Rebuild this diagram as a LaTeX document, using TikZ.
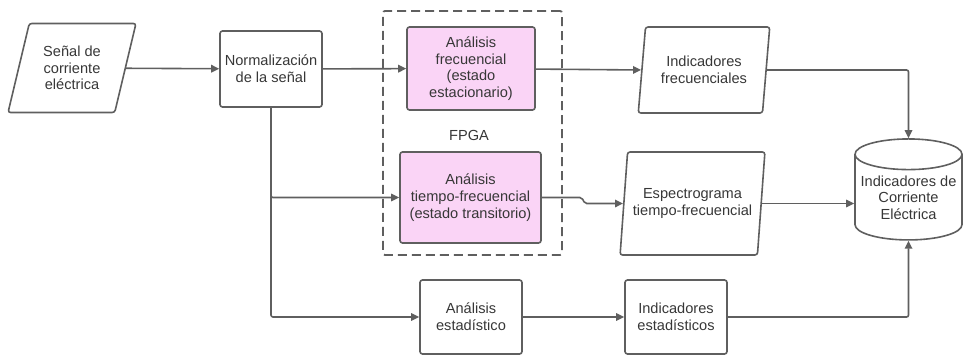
\documentclass[tikz,border=0pt]{standalone}
\usepackage{fontspec}
\setmainfont{Liberation Sans}
\usetikzlibrary{shapes.geometric,arrows.meta}
\definecolor{linegray}{RGB}{95,95,95}
\definecolor{textgray}{RGB}{55,55,55}
\definecolor{fpgapink}{RGB}{250,212,246}
\begin{document}
\begin{tikzpicture}[x=1pt, y=-1pt, font=\fontsize{14.6}{16.7}\selectfont, text=textgray,
	box/.style={draw=linegray, line width=1.6pt, rounded corners=2.5pt, align=center, inner sep=1pt},
	pinkbox/.style={box, fill=fpgapink},
	data/.style={draw=linegray, line width=1.6pt, rounded corners=2.5pt, align=center, inner sep=0pt,
		trapezium, trapezium stretches=true},
	flow/.style={draw=linegray, line width=1.6pt, -{Triangle[length=8pt,width=7.5pt]}}]
	\useasboundingbox (0,0) rectangle (963,356);
	%fpga frame
	\node[draw=linegray, line width=1.8pt, dash pattern=on 9pt off 5pt, rounded corners=2pt,
		minimum width=179pt, minimum height=244pt] (fpga) at (472.5,133) {};
	\node (fpgalabel) at (469,135) {FPGA};
	%nodes
	\node[data, trapezium left angle=72, trapezium right angle=108,
		minimum width=129pt, minimum height=89pt] (signal) at (72,68) {Señal de\\corriente\\eléctrica};
	\node[box, minimum width=102pt, minimum height=76pt] (norm) at (271,69) {Normalización\\de la señal};
	\node[pinkbox, minimum width=128pt, minimum height=83pt] (freq) at (471,68.5)
		{Análisis\\frecuencial\\(estado\\estacionario)};
	\node[pinkbox, minimum width=141pt, minimum height=91pt] (tfreq) at (470.5,197.5)
		{Análisis\\tiempo-frecuencial\\(estado transitorio)};
	\node[data, trapezium left angle=79, trapezium right angle=101,
		minimum width=132pt, minimum height=86pt] (indfreq) at (704,70) {Indicadores\\frecuenciales};
	\node[data, trapezium left angle=77, trapezium right angle=103,
		minimum width=145pt, minimum height=103pt] (spectro) at (692.5,203.5)
		{Espectrograma\\tiempo-frecuencial};
	\node[draw=linegray, line width=1.6pt, cylinder, shape border rotate=90, aspect=0.32,
		align=center, inner sep=0pt, minimum width=107pt, minimum height=101pt] (db) at (908.5,197.5)
		{Indicadores de\\Corriente\\Eléctrica};
	\node[box, minimum width=102pt, minimum height=74pt] (stat) at (471,317) {Análisis\\estadístico};
	\node[box, minimum width=102pt, minimum height=74pt] (indstat) at (676,317) {Indicadores\\estadísticos};
	%arrows
	\draw[flow] (signal) -- (norm);
	\draw[flow] (norm) -- (freq);
	\draw[flow] (freq) -- (indfreq.west);
	\draw[flow, rounded corners=2pt] (indfreq.east) -| (db.north);
	\draw[flow, rounded corners=2pt] (norm.south) |- (tfreq.west);
	\draw[flow, rounded corners=2pt] (norm.south) |- (stat.west);
	\draw[flow, rounded corners=2pt] (tfreq.east) -- ++(40,0) -- ++(3,6) -- (spectro.west);
	\draw[flow] (spectro.east) -- (spectro.east -| db.west);
	\draw[flow] (stat) -- (indstat);
	\draw[flow, rounded corners=2pt] (indstat.east) -| (db.south);
\end{tikzpicture}
\end{document}
